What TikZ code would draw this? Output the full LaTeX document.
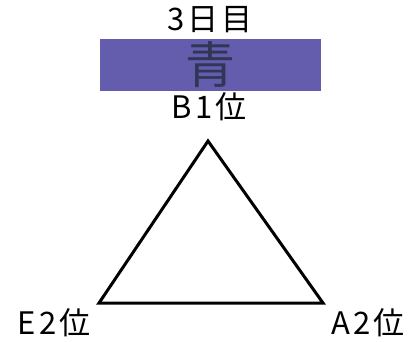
\documentclass[tikz,border=0pt]{standalone}
\usepackage{fontspec}
\setmainfont{Noto Sans CJK JP}[LetterSpace=10]
\usetikzlibrary{positioning}
\definecolor{bandblue}{RGB}{100, 92, 172}
\definecolor{inkblue}{RGB}{48, 54, 86}

\begin{document}
\begin{tikzpicture}[
        x=1pt, y=-1pt,
        label/.style={inner sep=0pt, font=\fontsize{31}{31}\selectfont},
        band/.style={rectangle, fill=bandblue, minimum width=221pt, minimum height=52pt, inner sep=0pt, text=inkblue, font=\fontsize{50}{50}\selectfont},
        edge/.style={line width=3pt, line join=miter}
    ]
        \useasboundingbox (0,0) rectangle (411,341);

        % Title and colour band
        \node[label] (day) at (210,20) {3日目};
        \node[band] (colour) at (210.5,64.5) {青};
        \node[label] (top) at (209,107) {B1位};

        % Triangle corners
        \coordinate (apex) at (208,141);
        \coordinate (left) at (99,303);
        \coordinate (right) at (323,303);

        % Bottom labels
        \node[label] (leftlab) at (54,323) {E2位};
        \node[label] (rightlab) at (368,323) {A2位};

        % Triangle
        \draw[edge] (apex) -- (left) -- (right) -- cycle;
    \end{tikzpicture}
\end{document}
